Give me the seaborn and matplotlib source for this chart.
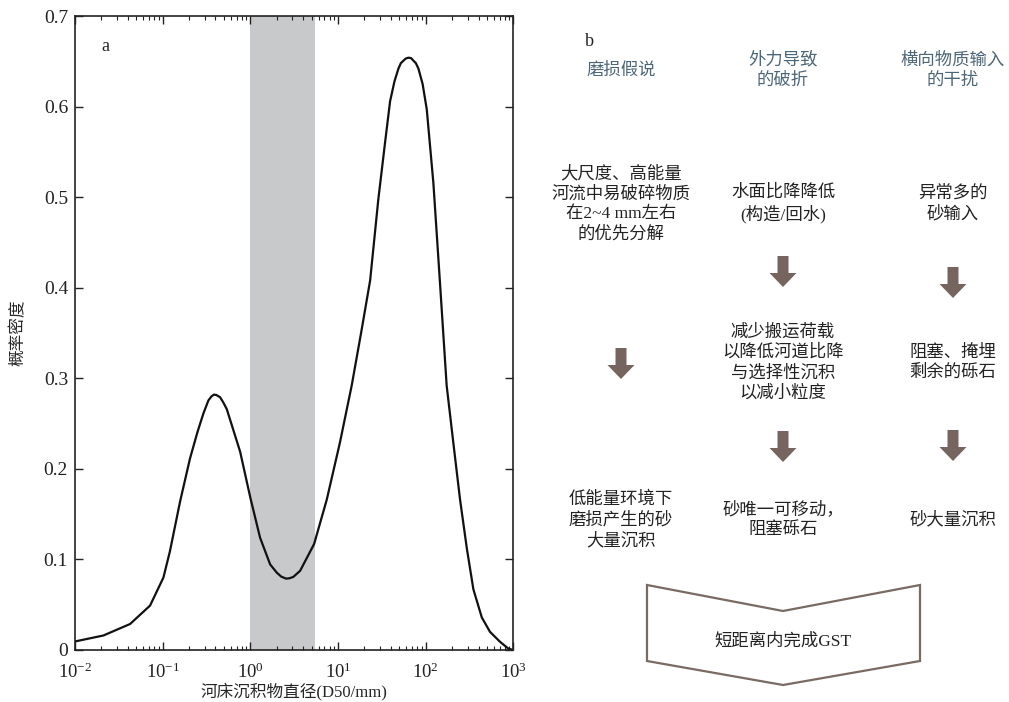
import numpy as np
import pandas as pd
import seaborn as sns
import matplotlib
matplotlib.use("Agg")
from matplotlib import pyplot as plt
from matplotlib.patches import FancyArrow, Polygon

# curve (D50 in mm, probability density)
d50 = [0.01, 0.0211, 0.0425, 0.0718, 0.102, 0.121, 0.158, 0.205, 0.25, 0.291, 0.332, 0.36,
       0.385, 0.41, 0.452, 0.49, 0.538, 0.764, 1.0, 1.29, 1.68, 2.0, 2.25, 2.55, 2.8, 3.09,
       3.69, 5.33, 7.43, 10.5, 14.3, 18.6, 23.2, 28.8, 34.4, 39.2, 44.0, 48.8, 52.0, 55.6,
       59.0, 63.4, 68.0, 72.3, 77.0, 82.4, 92.0, 102.6, 122, 145.5, 173, 206, 246, 294, 349,
       435, 540, 703, 875, 1000]
density = [0.0094, 0.016, 0.0287, 0.049, 0.080, 0.109, 0.164, 0.2115, 0.241, 0.261, 0.2755, 0.2800,
           0.282, 0.2815, 0.279, 0.2735, 0.266, 0.219, 0.168, 0.124, 0.0945, 0.0854, 0.081, 0.0788, 0.0792, 0.0807,
           0.0874, 0.117, 0.166, 0.229, 0.292, 0.354, 0.408, 0.498, 0.561, 0.606, 0.628, 0.642, 0.648, 0.6507,
           0.653, 0.654, 0.6535, 0.6507, 0.648, 0.642, 0.625, 0.597, 0.516, 0.404, 0.292, 0.229, 0.166, 0.112, 0.067,
           0.036, 0.020, 0.009, 0.0015, 0.0]
band = [1.0, 5.4]
yticks = [0, 0.1, 0.2, 0.3, 0.4, 0.5, 0.6, 0.7]
yticklabels = ["0", "0.1", "0.2", "0.3", "0.4", "0.5", "0.6", "0.7"]

headings = ["磨损假说", "外力导致\n的破折", "横向物质输入\n的干扰"]
row1 = ["大尺度、高能量\n河流中易破碎物质\n在2~4 mm左右\n的优先分解", "水面比降降低\n(构造/回水)", "异常多的\n砂输入"]
row2 = ["减少搬运荷载\n以降低河道比降\n与选择性沉积\n以减小粒度", "阻塞、掩埋\n剩余的砾石"]
row3 = ["低能量环境下\n磨损产生的砂\n大量沉积", "砂唯一可移动，\n阻塞砾石", "砂大量沉积"]
final = "短距离内完成GST"

sns.set_theme(style="ticks")
plt.rcParams['font.family'] = ['Liberation Serif', 'Noto Sans CJK SC', 'DejaVu Sans']
plt.rcParams['mathtext.fontset'] = 'custom'
plt.rcParams['mathtext.rm'] = 'Liberation Serif'

fig = plt.figure(figsize=(10.09, 7.02), dpi=100)
ax = fig.add_axes([0.0743, 0.0741, 0.4346, 0.9031])

df = pd.DataFrame({"d50": d50, "density": density})
ax.axvspan(band[0], band[1], color="#c8c9cb", lw=0, zorder=0)
sns.lineplot(data=df, x="d50", y="density", ax=ax, color="#111111", lw=1.6)
ax.set_xscale("log")
ax.set_xlim(0.01, 1000)
ax.set_ylim(0, 0.7)
ax.set_yticks(yticks)
ax.set_yticklabels(yticklabels)
ax.tick_params(which="both", direction="in", top=True, right=True, labelsize=14, colors="#222222")
ax.tick_params(which="major", length=5.5, width=1)
ax.tick_params(which="minor", length=3, width=0.8)
ax.tick_params(axis="x", which="major", pad=9, labelsize=13.5)
ax.tick_params(axis="y", which="major", pad=5)
for s in ax.spines.values():
    s.set_linewidth(1.2)
    s.set_color("#222222")
ax.set_xlabel("河床沉积物直径(D50/mm)", fontsize=12)
ax.xaxis.set_label_coords(0.5, -0.052)
ax.set_ylabel("概率密度", fontsize=12, labelpad=12)
ax.text(0.06, 0.965, "a", transform=ax.transAxes, fontsize=13, va="top")

# panel b, drawn in pixel coordinates
ov = fig.add_axes([0, 0, 1, 1])
ov.set_xlim(0, 1009)
ov.set_ylim(702, 0)
ov.axis("off")
cols = [621, 783, 953]
tk = dict(ha="center", va="center", fontsize=12.5, linespacing=1.32)
ov.text(589, 42, "b", fontsize=13, ha="center", va="center", color="#222222")
for c, t in zip(cols, headings):
    ov.text(c, 70.5, t, color="#4c6679", **tk)
for c, t in zip(cols, row1):
    ov.text(c, 204, t, color="#222222", **tk)
for c, t in zip(cols[1:], row2):
    ov.text(c, 363, t, color="#222222", **tk)
for c, t in zip(cols, row3):
    ov.text(c, 520, t, color="#222222", **tk)

arrow_c = "#76655e"
for x, y0 in [(cols[1], 256), (cols[2], 267), (cols[0], 348), (cols[1], 431), (cols[2], 430)]:
    ov.add_patch(FancyArrow(x, y0, 0, 31, width=11, head_width=27, head_length=14,
                            length_includes_head=True, color=arrow_c, lw=0))

chev = Polygon([(647, 585), (783, 611), (920, 585), (920, 661), (783, 685), (647, 661)],
               closed=True, fill=False, edgecolor="#7a6a64", lw=1.6)
ov.add_patch(chev)
ov.text(783, 642, final, color="#222222", **tk)

plt.savefig("out.png", dpi=100)
